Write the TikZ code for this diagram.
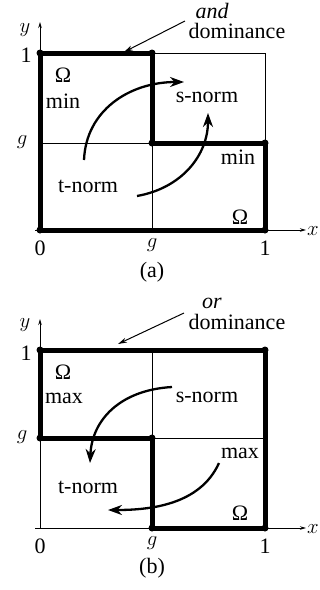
\documentclass[tikz,border=0pt]{standalone}
\usepackage{fontspec}
\setmainfont{Liberation Serif}
\usetikzlibrary{arrows.meta}
\begin{document}
\begin{tikzpicture}[x=1pt,y=-1pt,
  thickline/.style={line width=5pt,line join=round,line cap=round},
  thinline/.style={line width=0.9pt},
  axis/.style={line width=0.9pt,-{Stealth[length=6pt,width=3.5pt]}},
  curvearrow/.style={line width=2.3pt,-{Stealth[length=14pt,width=10pt]}},
  note/.style={line width=1pt,-{Stealth[length=9pt,width=5pt]}},
  lbl/.style={font=\fontsize{22}{24}\selectfont,inner sep=0pt},
  dot/.style={circle,fill=black,inner sep=0pt,minimum size=7pt}]
\useasboundingbox (0,0) rectangle (320,590);

% ---------------- panel (a) ----------------
\coordinate (a00) at (40,230);
\coordinate (a01) at (40,53);
\coordinate (ag1) at (152,53);
\coordinate (agg) at (152,143);
\coordinate (a1g) at (265,143);
\coordinate (a11) at (265,53);
\coordinate (a10) at (265,230);
\coordinate (a0g) at (40,143);
\coordinate (ag0) at (152,230);
\coordinate (ayend) at (40,22);
\coordinate (axend) at (306,230);
\coordinate (axstart) at (35,230);
% thin lines
\draw[thinline] (ag1) -- (a11) -- (a1g);
\draw[thinline] (a0g) -- (agg) -- (ag0);
\draw[axis] (a00) -- (ayend);
\draw[axis] (axstart) -- (axend);
% thick boundary
\draw[thickline] (a00) -- (a01) -- (ag1) -- (agg) -- (a1g) -- (a10) -- cycle;
\foreach \p in {a01,ag1,agg,a1g,a10,a00} \node[dot] at (\p) {};
% labels
\node[lbl] (ay) at (25,30) {$y$};
\node[lbl] (ax) at (313,231) {$x$};
\node[lbl] (a1y) at (26,55) {1};
\node[lbl] (agy) at (22,142) {$g$};
\node[lbl] (a0x) at (40,248) {0};
\node[lbl] (agx) at (152,245) {$g$};
\node[lbl] (a1x) at (265,248) {1};
\node[lbl] (acap) at (152,272) {(a)};
\node[lbl] (aand) at (212,11) {\itshape and};
\node[lbl] (adom) at (237,31) {dominance};
\node[lbl] (aO1) at (63,75) {Ω};
\node[lbl] (amin1) at (63,101) {min};
\node[lbl] (asn) at (207,97) {s-norm};
\node[lbl] (amin2) at (238,157) {min};
\node[lbl] (atn) at (88,186) {t-norm};
\node[lbl] (aO2) at (240,217) {Ω};
\coordinate (anote1) at (185,21);
\coordinate (anote2) at (124,52);
\draw[note] (anote1) -- (anote2);
\coordinate (ac1s) at (84,160);
\coordinate (ac1e) at (184,82);
\draw[curvearrow] (ac1s) .. controls (86,110) and (130,82) .. (ac1e);
\coordinate (ac2s) at (137,196);
\coordinate (ac2e) at (208,113);
\draw[curvearrow] (ac2s) .. controls (182,188) and (208,155) .. (ac2e);

% ---------------- panel (b) ----------------
\coordinate (b00) at (40,528);
\coordinate (b01) at (40,350);
\coordinate (bg1) at (152,350);
\coordinate (bgg) at (152,438);
\coordinate (b1g) at (265,438);
\coordinate (b11) at (265,350);
\coordinate (b10) at (265,528);
\coordinate (b0g) at (40,438);
\coordinate (bg0) at (152,528);
\coordinate (byend) at (40,319);
\coordinate (bxend) at (306,528);
\coordinate (bxstart) at (35,528);
% thin lines
\draw[thinline] (bg1) -- (bgg) -- (b1g);
\draw[axis] (b00) -- (byend);
\draw[axis] (bxstart) -- (bxend);
% thick boundary
\draw[thickline] (b0g) -- (b01) -- (b11) -- (b10) -- (bg0) -- (bgg) -- cycle;
\foreach \p in {b01,b11,b10,bg0,bgg,b0g} \node[dot] at (\p) {};
% labels
\node[lbl] (by) at (25,325) {$y$};
\node[lbl] (bx) at (313,529) {$x$};
\node[lbl] (b1y) at (26,353) {1};
\node[lbl] (bgy) at (22,437) {$g$};
\node[lbl] (b0x) at (40,546) {0};
\node[lbl] (bgx) at (152,543) {$g$};
\node[lbl] (b1x) at (265,546) {1};
\node[lbl] (bcap) at (152,568) {(b)};
\node[lbl] (bor) at (212,303) {\itshape or};
\node[lbl] (bdom) at (237,322) {dominance};
\node[lbl] (bO1) at (63,372) {Ω};
\node[lbl] (bmax1) at (64,398) {max};
\node[lbl] (bsn) at (207,397) {s-norm};
\node[lbl] (bmax2) at (240,453) {max};
\node[lbl] (btn) at (88,487) {t-norm};
\node[lbl] (bO2) at (240,513) {Ω};
\coordinate (bnote1) at (184,313);
\coordinate (bnote2) at (118,344);
\draw[note] (bnote1) -- (bnote2);
\coordinate (bc1s) at (172,387);
\coordinate (bc1e) at (90,463);
\draw[curvearrow] (bc1s) .. controls (120,390) and (92,420) .. (bc1e);
\coordinate (bc2s) at (219,463);
\coordinate (bc2e) at (108,510);
\draw[curvearrow] (bc2s) .. controls (200,505) and (150,510) .. (bc2e);
\end{tikzpicture}
\end{document}
